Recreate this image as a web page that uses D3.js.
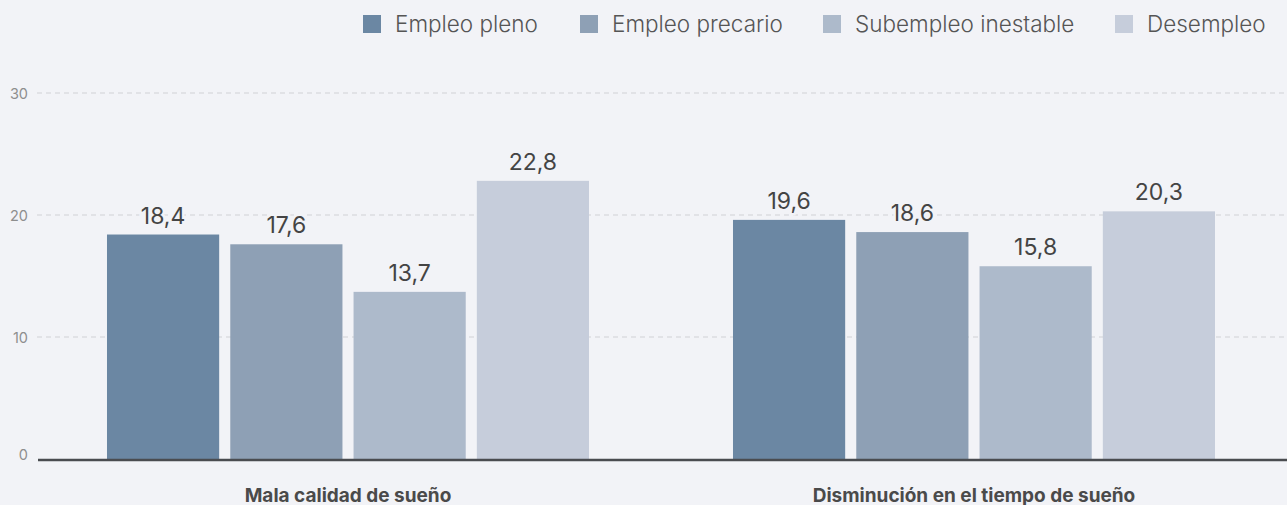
<!DOCTYPE html>
<html><head><meta charset="utf-8">
<script src="https://cdn.jsdelivr.net/npm/d3@7"></script>
<style>
body{margin:0;background:#f2f3f7;}
svg{display:block;}
</style></head>
<body>
<svg id="c" width="1287" height="505"></svg>
<script>
const categories = ["Mala calidad de sueño", "Disminución en el tiempo de sueño"];
const seriesNames = ["Empleo pleno", "Empleo precario", "Subempleo inestable", "Desempleo"];
const empleoPleno = [18.4, 19.6];
const empleoPrecario = [17.6, 18.6];
const subempleoInestable = [13.7, 15.8];
const desempleo = [22.8, 20.3];
const yTicks = [0, 10, 20, 30];
const colors = ["#6b87a3", "#8ea0b5", "#adbacb", "#c6cddb"];

const seriesValues = [empleoPleno, empleoPrecario, subempleoInestable, desempleo];
const fmt = v => String(v).replace(".", ",");
const FONT = "Inter, 'Open Sans', sans-serif";

const svg = d3.select("#c");
const W = 1287, H = 505;
const m = {left: 35, right: 0, top: 93, bottom: 46};
svg.append("rect").attr("width", W).attr("height", H).attr("fill", "#f2f3f7");

const y = d3.scaleLinear().domain([0, 30]).range([459, 93]);
const x0 = d3.scaleBand().domain(categories).range([m.left, W]).paddingInner(0.23).paddingOuter(0.115);
const x1 = d3.scaleBand().domain(seriesNames).range([0, x0.bandwidth()]).paddingInner(0.09);

// gridlines
const grid = svg.append("g");
grid.selectAll("line").data(yTicks.filter(t => t > 0)).join("line")
  .attr("x1", 37).attr("x2", W).attr("y1", d => y(d)).attr("y2", d => y(d))
  .attr("stroke", "#cfd1d6").attr("stroke-width", 1.2).attr("stroke-dasharray", "5,4");

// y tick labels
const yAxis = d3.axisLeft(y).tickValues(yTicks).tickSize(0).tickPadding(0);
const ya = svg.append("g").attr("transform", "translate(28,0)").call(yAxis);
ya.select(".domain").remove();
ya.selectAll("text").attr("font-family", FONT).attr("font-size", 14.5).attr("fill", "#8e8e8e")
  .attr("dy", d => d === 0 ? "0.05em" : "0.36em");

// bars
const groups = svg.append("g").selectAll("g").data(categories).join("g")
  .attr("transform", d => `translate(${x0(d)},0)`);
groups.selectAll("rect").data((c, ci) => seriesNames.map((s, si) => ({s, si, v: seriesValues[si][ci]}))).join("rect")
  .attr("x", d => x1(d.s)).attr("width", x1.bandwidth())
  .attr("y", d => y(d.v)).attr("height", d => y(0) - y(d.v))
  .attr("fill", d => colors[d.si]);
groups.selectAll("text").data((c, ci) => seriesNames.map((s, si) => ({s, si, v: seriesValues[si][ci]}))).join("text")
  .attr("x", d => x1(d.s) + x1.bandwidth() / 2).attr("y", d => y(d.v) - 11)
  .attr("text-anchor", "middle").attr("font-family", FONT).attr("font-size", 23)
  .attr("fill", "#444").attr("paint-order", "stroke").attr("stroke", "#f2f3f7").attr("stroke-width", 5)
  .text(d => fmt(d.v));

// x axis line
svg.append("line").attr("x1", 38).attr("x2", W).attr("y1", 460).attr("y2", 460)
  .attr("stroke", "#4a4c50").attr("stroke-width", 2.5);

// category labels
const xAxis = d3.axisBottom(x0).tickSize(0).tickPadding(0);
const xa = svg.append("g").attr("transform", "translate(0,488)").call(xAxis);
xa.select(".domain").remove();
xa.selectAll("text").attr("font-family", FONT).attr("font-weight", "bold")
  .attr("font-size", 19).attr("fill", "#4a4a4a");

// legend
const legendX = [363, 580, 823, 1115];
const lg = svg.append("g").selectAll("g").data(seriesNames).join("g")
  .attr("transform", (d, i) => `translate(${legendX[i]},15)`);
lg.append("rect").attr("width", 18).attr("height", 18).attr("fill", (d, i) => colors[i]);
lg.append("text").attr("x", 32).attr("y", 17).attr("font-family", FONT).attr("font-weight", 300)
  .attr("font-size", 22.5).attr("fill", "#555").text(d => d);
</script>
</body></html>
